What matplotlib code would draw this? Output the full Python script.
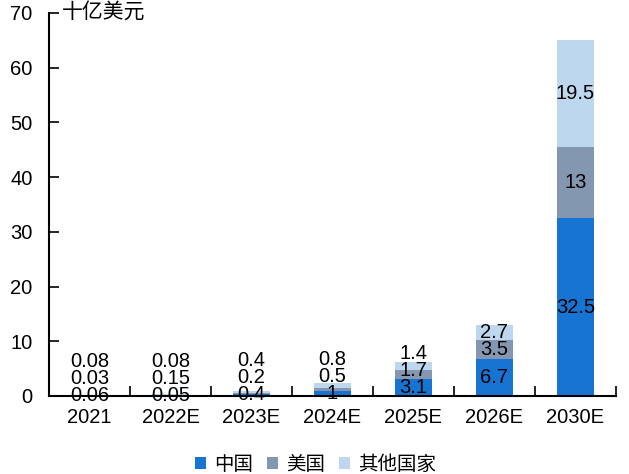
import matplotlib.pyplot as plt
import numpy as np

plt.rcParams['font.family'] = ['Liberation Sans', 'Noto Sans CJK SC']

years = ['2021', '2022E', '2023E', '2024E', '2025E', '2026E', '2030E']
china = [0.06, 0.05, 0.4, 1, 3.1, 6.7, 32.5]
usa = [0.03, 0.15, 0.2, 0.5, 1.7, 3.5, 13]
others = [0.08, 0.08, 0.4, 0.8, 1.4, 2.7, 19.5]

series = [('中国', china, '#1874D2'),
          ('美国', usa, '#8497B0'),
          ('其他国家', others, '#BDD7EE')]

fig = plt.figure(figsize=(6.29, 4.74), dpi=100)
ax = fig.add_axes([0.078, 0.1646, 0.901, 0.808])

x = np.arange(len(years))
bottom = np.zeros(len(years))
label_y = np.full(len(years), -np.inf)
gap = 3.1  # minimum spacing between stacked value labels
for name, vals, color in series:
    vals = np.array(vals, dtype=float)
    ax.bar(x, vals, 0.46, bottom=bottom, color=color, label=name)
    centers = bottom + vals / 2
    label_y = np.maximum(centers, label_y + gap)
    for i, v in enumerate(vals):
        ax.text(x[i], label_y[i], f'{v:g}', ha='center', va='center',
                fontsize=14.5, color='black')
    bottom += vals

ax.set_xlim(-0.5, len(years) - 0.5)
ax.set_ylim(0, 70)
ax.set_yticks(range(0, 71, 10))
ax.set_xticks(x)
ax.set_xticklabels(years, fontsize=14.5)
ax.set_xticks(np.arange(-0.5, len(years)), minor=True)
ax.tick_params(axis='x', which='major', length=0, pad=9)
ax.tick_params(axis='x', which='minor', direction='in', length=7, width=1.2)
ax.tick_params(axis='y', direction='in', length=7, width=1.2, labelsize=14.5, pad=12)

for side in ['top', 'right']:
    ax.spines[side].set_visible(False)
for side in ['left', 'bottom']:
    ax.spines[side].set_linewidth(1.5)

fig.text(0.098, 0.975, '十亿美元', fontsize=15, family=['Noto Sans CJK SC'],
         ha='left', va='center')

ax.legend(loc='upper center', bbox_to_anchor=(0.47, -0.105), ncol=3, frameon=False,
          prop={'family': 'Noto Sans CJK SC', 'size': 14},
          handlelength=0.6, handleheight=0.6, handletextpad=0.4, columnspacing=0.7)

fig.savefig('out.png', dpi=100)
